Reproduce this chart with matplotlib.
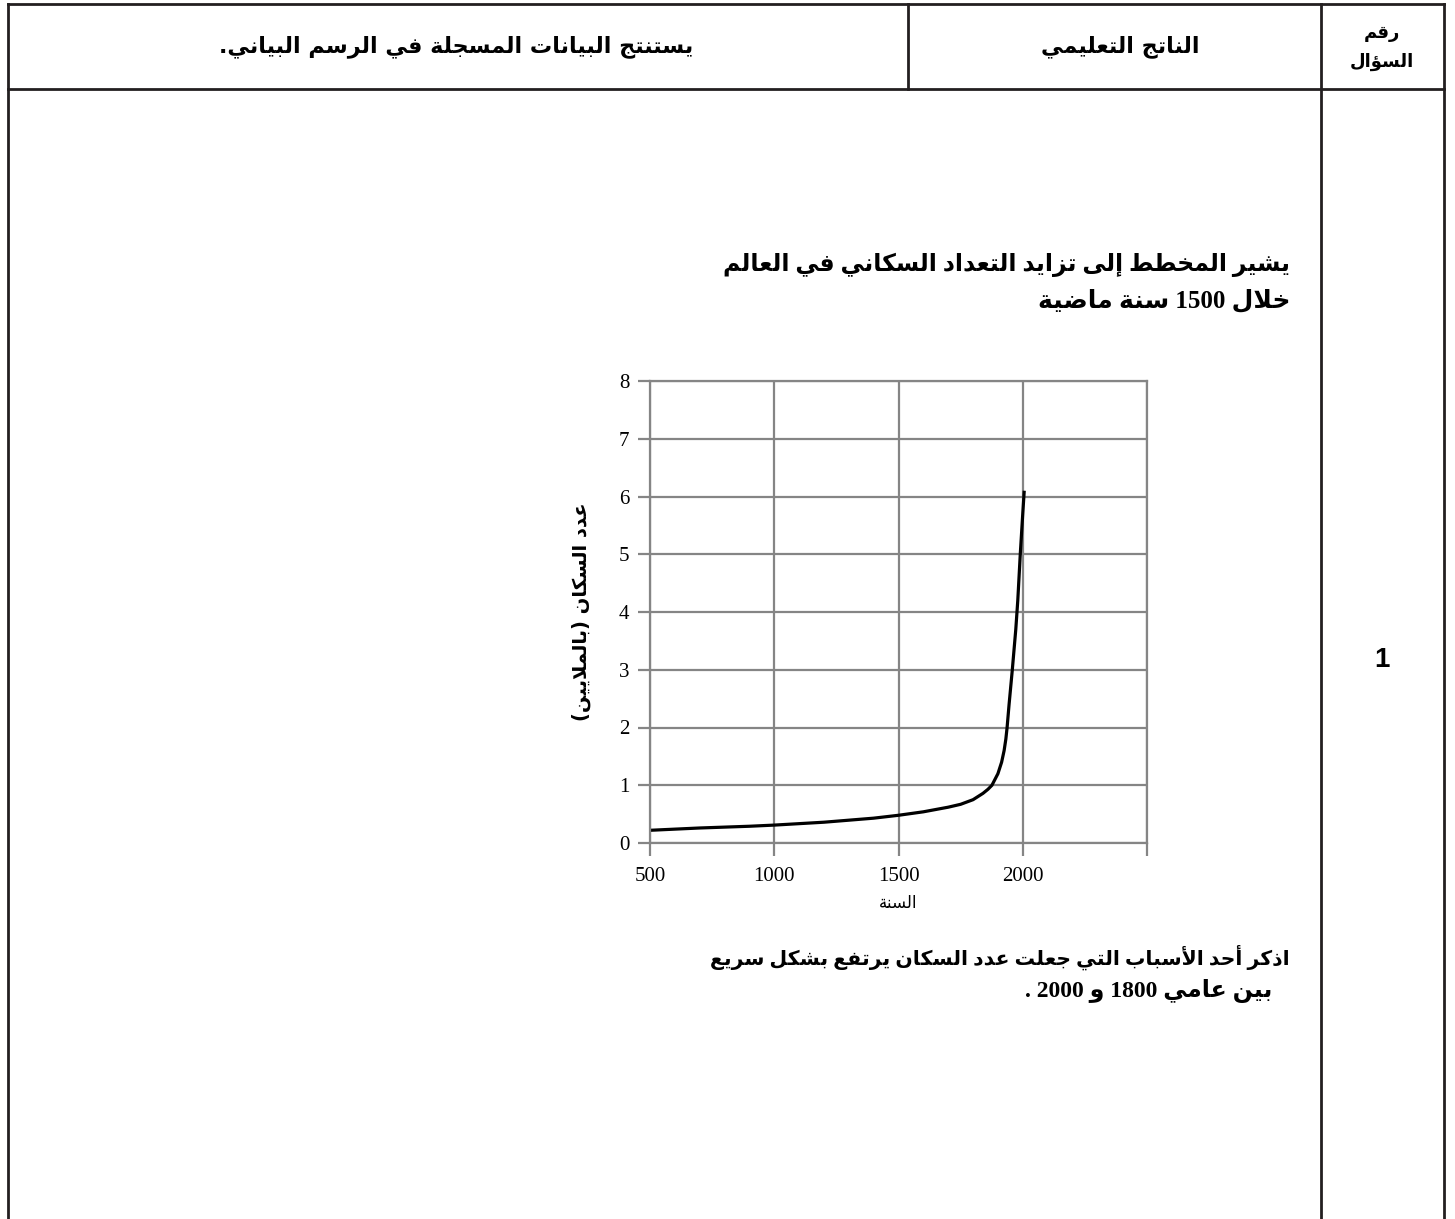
import re
import numpy as np
import matplotlib as mpl
mpl.use('Agg')
import matplotlib.pyplot as plt

# بيانات المنحنى (السنة / عدد السكان)
years = [500, 700, 900, 1000, 1200, 1400, 1500, 1600, 1700, 1750, 1800, 1840,
         1860, 1876, 1900, 1915, 1925, 1932, 1937, 1945, 1958, 1972, 1980,
         1990, 2000, 2006]
population = [0.22, 0.26, 0.29, 0.31, 0.36, 0.43, 0.48, 0.54, 0.62, 0.67, 0.75, 0.86,
              0.93, 1.0, 1.2, 1.4, 1.6, 1.8, 2.0, 2.4, 3.0, 3.7, 4.2,
              5.0, 5.7, 6.1]
x_ticks = [500, 1000, 1500, 2000, 2500]
x_ticklabels = ["500", "1000", "1500", "2000", ""]
y_ticks = [0, 1, 2, 3, 4, 5, 6, 7, 8]

header_left = "يستنتج البيانات المسجلة في الرسم البياني."
header_mid = "الناتج التعليمي"
header_right = ["رقم", "السؤال"]
intro_lines = ["يشير المخطط إلى تزايد التعداد السكاني في العالم",
               "خلال 1500 سنة ماضية"]
question_lines = ["اذكر أحد الأسباب التي جعلت عدد السكان يرتفع بشكل سريع",
                  "بين عامي 1800 و 2000 ."]
x_label = "السنة"
y_label = "عدد السكان (بالملايين)"
question_no = "1"

# تشكيل الحروف العربية يدويا (matplotlib لا يقوم بذلك)
JOIN2 = {'آ': 0xFE81, 'أ': 0xFE83, 'ؤ': 0xFE85, 'إ': 0xFE87, 'ا': 0xFE8D,
         'ة': 0xFE93, 'د': 0xFEA9, 'ذ': 0xFEAB, 'ر': 0xFEAD, 'ز': 0xFEAF,
         'و': 0xFEED, 'ى': 0xFEEF}
JOIN4 = {'ئ': 0xFE89, 'ب': 0xFE8F, 'ت': 0xFE95, 'ث': 0xFE99, 'ج': 0xFE9D,
         'ح': 0xFEA1, 'خ': 0xFEA5, 'س': 0xFEB1, 'ش': 0xFEB5, 'ص': 0xFEB9,
         'ض': 0xFEBD, 'ط': 0xFEC1, 'ظ': 0xFEC5, 'ع': 0xFEC9, 'غ': 0xFECD,
         'ف': 0xFED1, 'ق': 0xFED5, 'ك': 0xFED9, 'ل': 0xFEDD, 'م': 0xFEE1,
         'ن': 0xFEE5, 'ه': 0xFEE9, 'ي': 0xFEF1}
LAM_ALEF = {'آ': 0xFEF5, 'أ': 0xFEF7, 'إ': 0xFEF9, 'ا': 0xFEFB}


def shape(s):
    out = []
    prev = False
    i = 0
    while i < len(s):
        c = s[i]
        nxt = s[i + 1] if i + 1 < len(s) else ''
        if c == 'ل' and nxt in LAM_ALEF:
            out.append(chr(LAM_ALEF[nxt] + (1 if prev else 0)))
            prev = False
            i += 2
            continue
        if c in JOIN4:
            to_next = nxt in JOIN4 or nxt in JOIN2
            if prev and to_next:
                f = 3
            elif prev:
                f = 1
            elif to_next:
                f = 2
            else:
                f = 0
            out.append(chr(JOIN4[c] + f))
            prev = True
        elif c in JOIN2:
            out.append(chr(JOIN2[c] + (1 if prev else 0)))
            prev = False
        else:
            out.append(c)
            prev = False
        i += 1
    return ''.join(out)


def rtl(s):
    s = shape(s)
    runs = re.findall(r'[0-9]+|[^0-9]+', s)
    vis = []
    for r in reversed(runs):
        if r[0].isdigit():
            vis.append(r)
        else:
            vis.append(r[::-1].translate(str.maketrans('()', ')(')))
    return ''.join(vis)


AR = ['DejaVu Sans']
MIX = ['Liberation Serif', 'DejaVu Sans']

fig = plt.figure(figsize=(14.55, 12.19), dpi=100)
page = fig.add_axes([0, 0, 1, 1])
page.set_xlim(0, 1455)
page.set_ylim(1219, 0)
page.axis('off')

# الجدول
lc = '#231f20'
lw = 2.0
page.plot([8, 1444], [4, 4], color=lc, lw=lw)
page.plot([8, 1444], [89, 89], color=lc, lw=lw)
page.plot([8, 8], [4, 1219], color=lc, lw=lw)
page.plot([1444, 1444], [4, 1219], color=lc, lw=lw)
page.plot([1321, 1321], [4, 1219], color=lc, lw=lw)
page.plot([908, 908], [4, 89], color=lc, lw=lw)

page.text(456, 47, rtl(header_left), family=AR, weight='bold', fontsize=16,
          ha='center', va='center')
page.text(1120, 47, rtl(header_mid), family=AR, weight='bold', fontsize=16,
          ha='center', va='center')
page.text(1382, 33, rtl(header_right[0]), family=AR, weight='bold', fontsize=13,
          ha='center', va='center')
page.text(1382, 62, rtl(header_right[1]), family=AR, weight='bold', fontsize=13,
          ha='center', va='center')
page.text(1382, 660, question_no, family=['Liberation Sans'], weight='bold',
          fontsize=20, ha='center', va='center')

page.text(1290, 265, rtl(intro_lines[0]), family=MIX, weight='bold', fontsize=17,
          ha='right', va='center')
page.text(1290, 300, rtl(intro_lines[1]), family=MIX, weight='bold', fontsize=18,
          ha='right', va='center')
page.text(1290, 957, rtl(question_lines[0]), family=MIX, weight='bold', fontsize=14.7,
          ha='right', va='center')
page.text(1272, 991, rtl(question_lines[1]), family=MIX, weight='bold', fontsize=17,
          ha='right', va='center')

# المخطط
gray = '#858585'
ax = fig.add_axes([650 / 1455, 1 - 843 / 1219, 497 / 1455, 462 / 1219])
ax.plot(years, population, color='black', lw=2.3, solid_capstyle='butt',
        solid_joinstyle='round')
ax.set_xlim(500, 2500)
ax.set_ylim(0, 8)
ax.set_xticks(x_ticks)
ax.set_xticklabels(x_ticklabels)
ax.set_yticks(y_ticks)
ax.grid(True, color=gray, lw=1.6)
ax.set_axisbelow(True)
for sp in ax.spines.values():
    sp.set_color(gray)
    sp.set_linewidth(1.6)
ax.tick_params(axis='both', direction='out', color=gray, width=1.6, length=9,
               labelsize=15)
for lab in ax.get_xticklabels() + ax.get_yticklabels():
    lab.set_family('Liberation Serif')
ax.tick_params(axis='y', pad=6)
ax.tick_params(axis='x', pad=8)
ax.set_xlabel(rtl(x_label), family=AR, fontsize=12, labelpad=6)
ax.set_ylabel(rtl(y_label), family=AR, weight='bold', fontsize=14, labelpad=20)

fig.savefig('out.png', dpi=100)
